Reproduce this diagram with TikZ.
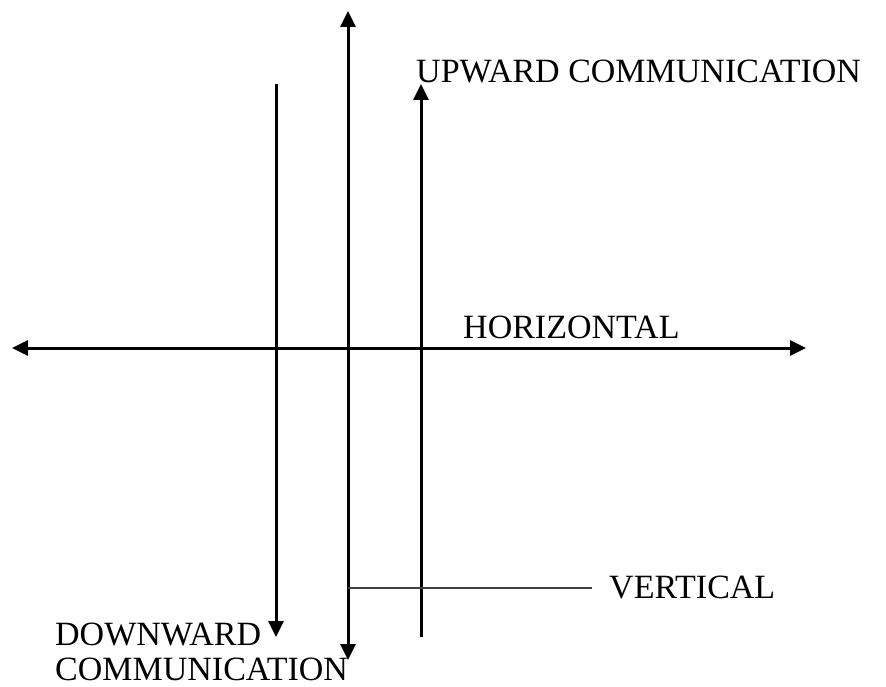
\documentclass[tikz,border=0pt]{standalone}
\usepackage{fontspec}
\setmainfont{Liberation Serif}
\usetikzlibrary{arrows.meta}
\begin{document}
\begin{tikzpicture}[x=1pt,y=-1pt,
  axis/.style={line width=3pt,-{Triangle[length=16pt,width=15pt]}},
  axisboth/.style={line width=3pt,{Triangle[length=16pt,width=15pt]}-{Triangle[length=16pt,width=15pt]}},
  lbl/.style={inner sep=0pt,anchor=base west,font=\fontsize{34}{38}\selectfont},
  thin/.style={line width=1.8pt,draw=black!75}]
\useasboundingbox (0,0) rectangle (886,687);
% coordinates
\coordinate (hL) at (12,348);
\coordinate (hR) at (806,348);
\coordinate (mT) at (348,11);
\coordinate (mB) at (348,660);
\coordinate (lT) at (276,84);
\coordinate (lB) at (276,637);
\coordinate (rT) at (421,84);
\coordinate (rB) at (421,637);
\coordinate (vS) at (348,588);
\coordinate (vE) at (592,588);
% connectors
\draw[axisboth] (hL) -- (hR);
\draw[axisboth] (mB) -- (mT);
\draw[axis] (lT) -- (lB);
\draw[axis] (rB) -- (rT);
\draw[thin] (vS) -- (vE);
% labels
\node[lbl] (up) at (416,83) {UPWARD COMMUNICATION};
\node[lbl] (hz) at (463,338) {HORIZONTAL};
\node[lbl] (vt) at (609,598) {VERTICAL};
\node[lbl] (dw) at (55,645) {DOWNWARD};
\node[lbl] (cm) at (55,680) {COMMUNICATION};
\end{tikzpicture}
\end{document}
